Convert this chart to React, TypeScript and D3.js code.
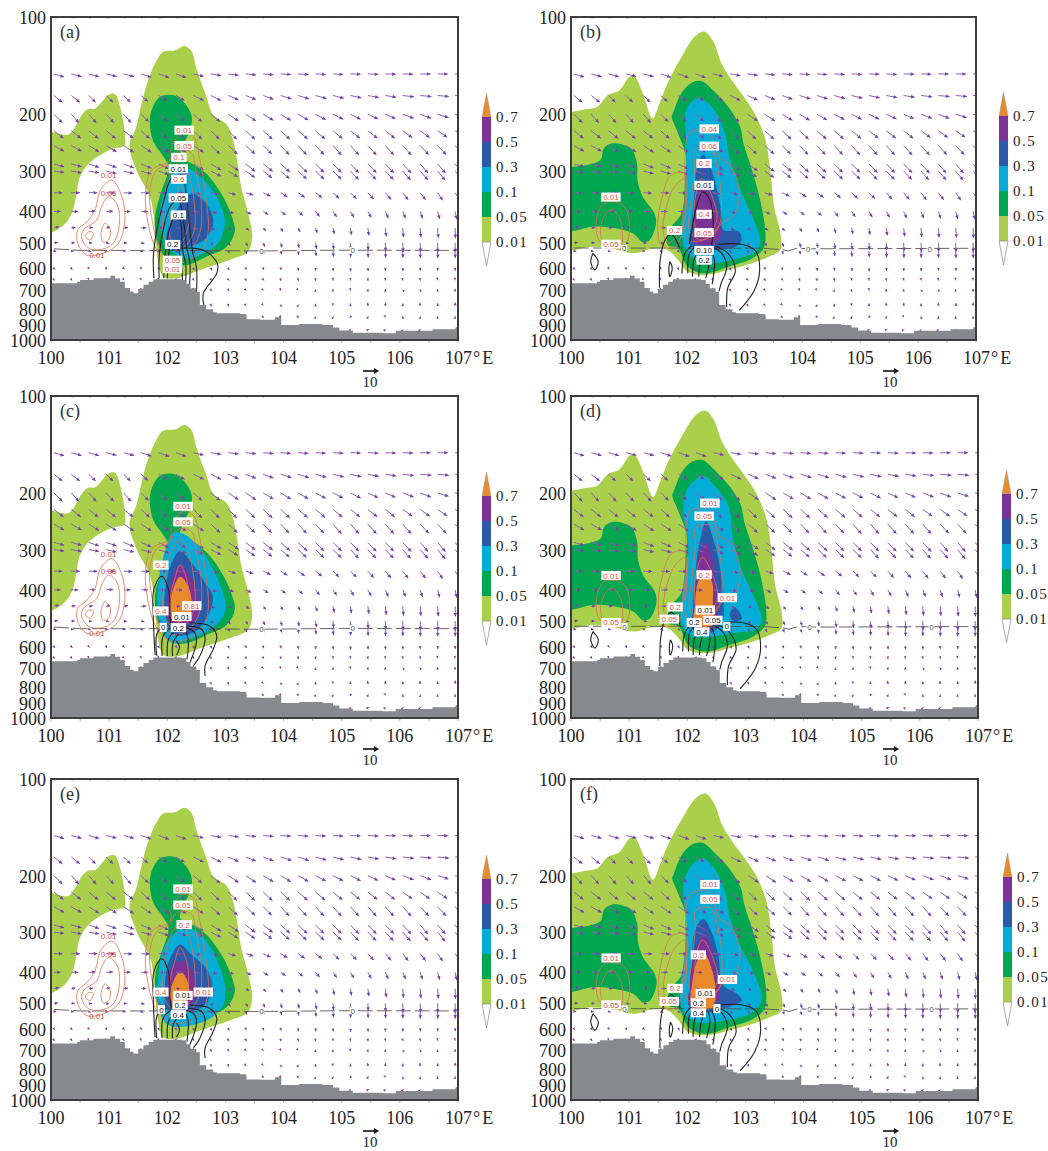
import React from 'react';
import * as d3 from 'd3';

type Pt = [number, number];

// values: [longitude, pressure]
const xTicks = [100, 101, 102, 103, 104, 105, 106, 107];
const yTicks = [100, 200, 300, 400, 500, 600, 700, 800, 900, 1000];
const legendLabels = ['0.7', '0.5', '0.3', '0.1', '0.05', '0.01'];

const terrain: Pt[] = [[100,667],[100.45,660],[100.5,652],[100.73,644],[101.02,633],[101.1,645],[101.19,660],[101.27,690],[101.36,708],[101.42,716],[101.5,695],[101.59,675],[101.68,660],[101.76,649],[102.25,652],[102.33,670],[102.4,692],[102.5,710],[102.56,779],[102.67,803],[102.79,820],[102.85,826],[103.25,831],[103.36,863],[103.6,865],[103.85,850],[103.96,898],[104.27,892],[104.67,898],[104.85,915],[104.96,935],[105.19,949],[105.7,953],[105.93,937],[106.56,926],[106.96,913],[107,913]];

// shading shared by the left column (a, c, e)
const leftPatch: Pt[] = [[99.9,229],[100.3,231],[100.53,201],[100.63,193],[100.76,192],[100.99,174],[101.1,173],[101.19,190],[101.27,229],[101.26,251],[101.1,255],[100.9,264],[100.65,284],[100.5,312],[100.42,368],[100.36,405],[100.19,445],[99.9,465]];
const mainLeft001: Pt[] = [[101.82,136],[101.93,128],[102.13,127],[102.3,123],[102.42,128],[102.5,144],[102.67,176],[102.79,201],[103.02,215],[103.13,240],[103.22,291],[103.27,335],[103.39,405],[103.46,478],[103.39,532],[103.07,565],[102.56,607],[102.16,644],[101.93,637],[101.85,579],[101.81,514],[101.76,405],[101.7,360],[101.47,298],[101.35,249],[101.47,218],[101.56,185],[101.67,157]];
const mainLeft005: Pt[] = [[101.93,175],[102.13,175],[102.3,185],[102.42,203],[102.39,224],[102.26,252],[102.22,271],[102.42,284],[102.67,305],[102.96,360],[103.13,425],[103.16,462],[103.02,514],[102.67,552],[102.33,586],[102.05,579],[101.82,490],[101.79,415],[101.87,360],[102.02,291],[101.93,270],[101.76,243],[101.7,213],[101.73,194],[101.85,178]];

// shading shared by the right column (b, d, f)
const mainRight001: Pt[] = [[99.9,203],[100.19,194],[100.45,190],[100.63,175],[100.83,169],[101.01,153],[101.09,152],[101.24,172],[101.41,206],[101.53,185],[101.67,160],[101.91,133],[102.14,115],[102.31,111],[102.46,119],[102.6,139],[102.78,157],[102.98,176],[103.19,201],[103.36,240],[103.45,305],[103.51,386],[103.62,467],[103.62,526],[103.42,552],[103.13,579],[102.72,607],[102.31,629],[102.02,615],[101.85,565],[101.67,526],[101.44,520],[101.09,539],[100.69,520],[100.34,514],[99.9,520]];
const rightPatch005: Pt[] = [[99.9,299],[100.28,287],[100.51,277],[100.57,255],[100.71,246],[101.03,255],[101.14,284],[101.15,320],[101.24,360],[101.44,405],[101.47,436],[101.36,490],[101.24,497],[101.07,467],[100.74,450],[100.4,445],[99.9,455]];
const mainRight005: Pt[] = [[101.76,199],[101.91,172],[102.08,160],[102.26,158],[102.46,169],[102.72,190],[102.92,218],[102.98,246],[103.13,298],[103.27,369],[103.36,467],[103.33,520],[103.13,559],[102.72,593],[102.31,622],[102.02,593],[101.85,520],[101.67,508],[101.7,456],[101.91,405],[101.97,320],[101.99,271],[101.85,229],[101.74,203]];

// core shading, one set per panel
const a010: Pt[] = [[102.1,305],[102.3,293],[102.5,305],[102.73,335],[102.9,377],[102.99,436],[102.87,502],[102.62,539],[102.33,560],[102.05,526],[101.9,467],[101.87,405],[101.96,342]];
const a030: Pt[] = [[102.42,352],[102.62,369],[102.76,405],[102.79,436],[102.67,483],[102.45,509],[102.1,526],[101.99,490],[102.02,445],[102.13,405],[102.27,369]];
const b010: Pt[] = [[101.99,194],[102.14,180],[102.28,180],[102.52,199],[102.66,229],[102.75,277],[102.98,360],[103.16,425],[103.27,502],[103.19,532],[102.78,565],[102.31,579],[102.02,539],[101.91,467],[101.97,386],[101.99,291],[101.99,240],[101.97,213]];
const b030: Pt[] = [[102.28,267],[102.43,298],[102.52,343],[102.6,405],[102.63,456],[102.9,461],[102.95,490],[102.84,514],[102.43,526],[102.05,508],[102.08,445],[102.13,360],[102.17,298]];
const b050: Pt[] = [[102.28,325],[102.43,360],[102.55,415],[102.6,467],[102.49,502],[102.14,502],[102.11,445],[102.14,377]];
const c010: Pt[] = [[102.1,266],[102.3,269],[102.53,293],[102.79,346],[102.99,428],[102.99,470],[102.82,518],[102.39,569],[102.07,583],[101.9,530],[101.83,448],[101.87,355],[101.99,293]];
const c030: Pt[] = [[102.22,303],[102.42,330],[102.65,380],[102.78,418],[102.7,482],[102.45,543],[102.1,549],[101.96,470],[101.99,371],[102.1,323]];
const c050: Pt[] = [[102.21,335],[102.39,363],[102.53,418],[102.56,459],[102.42,506],[102.1,518],[102,470],[102.05,389]];
const c070: Pt[] = [[102.22,364],[102.36,389],[102.42,449],[102.36,493],[102.1,499],[102.05,459],[102.1,398]];
const d010: Pt[] = [[102.13,183],[102.28,177],[102.48,191],[102.71,220],[102.79,279],[102.91,338],[103.14,418],[103.28,493],[103.19,530],[102.85,543],[102.33,562],[102.05,555],[101.9,505],[101.93,389],[102.02,293],[101.93,231],[101.99,196]];
const d030: Pt[] = [[102.32,245],[102.45,279],[102.56,338],[102.62,428],[102.61,493],[102.42,543],[102.1,530],[102.13,428],[102.16,323],[102.25,266]];
const d030b: Pt[] = [[102.82,453],[102.94,493],[102.79,499],[102.73,476]];
const d050: Pt[] = [[102.32,286],[102.42,314],[102.49,389],[102.53,470],[102.39,530],[102.13,530],[102.1,448],[102.16,355],[102.22,307]];
const d070: Pt[] = [[102.29,359],[102.42,376],[102.44,438],[102.42,518],[102.13,505],[102.13,448],[102.19,376]];
const e010: Pt[] = [[102.1,305],[102.3,290],[102.53,301],[102.79,347],[102.99,439],[102.96,506],[102.73,558],[102.22,592],[101.99,580],[101.85,506],[101.85,409],[101.93,339]];
const e030: Pt[] = [[102.22,328],[102.42,353],[102.67,390],[102.77,439],[102.65,506],[102.33,531],[101.99,519],[101.96,439],[102.02,373],[102.13,339]];
const e050: Pt[] = [[102.22,368],[102.36,381],[102.49,429],[102.47,484],[102.27,519],[102.05,495],[101.99,439],[102.07,390]];
const e070: Pt[] = [[102.22,398],[102.33,419],[102.38,461],[102.33,490],[102.07,490],[102.05,461],[102.1,429]];
const f010: Pt[] = [[102.13,182],[102.28,177],[102.48,192],[102.65,226],[102.74,273],[102.91,330],[103.11,390],[103.28,484],[103.14,531],[102.68,564],[102.16,571],[101.93,531],[101.87,461],[101.93,381],[101.99,294],[101.93,220],[102.02,192]];
const f030: Pt[] = [[102.28,273],[102.42,301],[102.53,353],[102.62,439],[102.85,466],[102.94,490],[102.79,506],[102.45,531],[102.05,519],[102.08,400],[102.1,317],[102.16,288]];
const f050: Pt[] = [[102.28,305],[102.42,339],[102.53,419],[102.56,471],[102.42,519],[102.05,513],[102.04,439],[102.1,353],[102.19,324]];
const f070: Pt[] = [[102.28,347],[102.42,390],[102.49,471],[102.42,519],[102.08,506],[102.08,439],[102.16,373]];

// red contours (closed)
const redLeft: Pt[][] = [
  [[101.05,320],[101.22,360],[101.27,425],[101.16,502],[100.9,539],[100.62,546],[100.46,502],[100.46,456],[100.62,430],[100.76,395],[100.85,343]],
  [[100.99,360],[101.13,378],[101.18,430],[101.07,502],[100.85,525],[100.65,520],[100.53,485],[100.56,456],[100.79,425],[100.87,386]],
  [[100.93,435],[101.02,456],[100.99,490],[100.9,498],[100.86,467]],
  [[100.65,462],[100.73,467],[100.67,490],[100.59,478]],
  [[102.25,229],[102.45,235],[102.56,277],[102.67,369],[102.7,467],[102.56,539],[102.1,579],[101.82,526],[101.65,415],[101.63,343],[101.73,298],[102.05,277],[102.07,252]],
  [[102.26,258],[102.42,264],[102.5,305],[102.59,386],[102.56,467],[102.39,526],[102.1,552],[101.87,514],[101.73,415],[101.7,343],[101.82,298],[102.05,284],[102.13,264]],
  [[102.22,277],[102.36,305],[102.47,386],[102.45,467],[102.25,520],[102.05,514],[101.93,467],[101.93,405],[101.99,335],[102.1,298]],
  [[102.22,335],[102.33,369],[102.36,445],[102.22,502],[102.07,490],[102.05,425],[102.13,369]],
];
const redRight: Pt[][] = [
  [[100.69,373],[100.92,386],[101.01,445],[100.95,502],[100.69,520],[100.48,490],[100.44,425],[100.54,382]],
  [[100.69,395],[100.83,415],[100.89,467],[100.86,508],[100.6,508],[100.51,467],[100.57,415]],
  [[101.97,305],[101.73,309],[101.56,369],[101.5,445],[101.56,508],[101.73,520],[101.85,502],[101.95,420]],
  [[101.97,317],[101.79,335],[101.65,386],[101.59,456],[101.67,502],[101.85,470],[101.95,390]],
  [[102.05,229],[102.37,224],[102.55,271],[102.72,284],[102.9,335],[102.84,405],[102.6,436],[102.43,478],[102.02,490],[101.99,369],[101.97,277]],
  [[102.14,258],[102.4,252],[102.55,305],[102.6,386],[102.55,445],[102.26,490],[102.05,461],[102.08,369],[102.14,291]],
  [[102.26,317],[102.46,369],[102.52,425],[102.37,467],[102.17,456],[102.14,369]],
];

// black contours (open, they run into the terrain)
const blackA: Pt[][] = [
  [[101.77,644],[101.76,552],[101.82,456],[101.93,377],[102.07,316],[102.25,309],[102.33,360],[102.39,456],[102.44,539],[102.5,593],[102.5,735]],
  [[101.86,644],[101.86,552],[101.93,456],[102.05,386],[102.19,369],[102.27,415],[102.33,514],[102.39,579],[102.38,684]],
  [[101.94,644],[101.96,552],[102.02,467],[102.13,415],[102.22,425],[102.26,520],[102.32,593],[102.31,684]],
  [[102,644],[102.02,565],[102.05,514],[102.13,508],[102.19,526],[102.25,593],[102.26,667]],
  [[102.63,779],[102.62,717],[102.85,622],[102.86,579],[102.67,532],[102.45,520],[102.22,520]],
];
const blackFanLeft: Pt[][] = [
  [[101.79,637],[101.76,488],[101.77,398],[101.9,363],[102.02,398],[102.05,493],[102.07,518]],
  [[102.39,506],[102.73,518],[102.85,555],[102.79,612],[102.65,688],[102.65,740]],
  [[102.36,518],[102.59,530],[102.65,569],[102.56,642],[102.45,688]],
  [[102.33,524],[102.47,543],[102.5,583],[102.39,672]],
  [[102.3,530],[102.36,569],[102.34,657]],
  [[101.82,642],[101.83,543],[101.99,518]],
  [[101.91,642],[101.93,555],[102.07,524]],
  [[102,642],[102.02,569],[102.13,536]],
  [[102.09,642],[102.1,583],[102.19,549]],
  [[102.16,576],[102.21,603],[102.16,637]],
];
const blackFanRight: Pt[][] = [
  [[102.53,506],[102.96,506],[103.19,530],[103.26,612],[103.16,707],[102.91,810]],
  [[102.49,511],[102.73,543],[102.84,612],[102.71,689],[102.69,790]],
  [[102.48,518],[102.62,543],[102.69,597],[102.59,672],[102.56,707]],
  [[102.42,524],[102.48,569],[102.44,672]],
  [[102.36,530],[102.39,569],[102.33,642]],
  [[102.13,518],[102.04,543],[102.02,622]],
  [[102.08,511],[101.96,543],[101.92,622]],
  [[102.28,536],[102.22,597],[102.21,637]],
  [[102.19,530],[102.12,569],[102.1,637]],
  [[101.88,518],[101.73,470],[101.62,493],[101.54,569],[101.53,689]],
  [[101.71,572],[101.75,597],[101.71,637],[101.69,603],[101.71,572]],
  [[100.38,539],[100.47,572],[100.41,607],[100.34,572],[100.38,539]],
];
const blackLobeB: Pt[] = [[102.05,502],[102.17,386],[102.28,348],[102.4,369],[102.46,456],[102.43,508]];

const zeroLeft: Pt[] = [[100.05,522],[100.5,528],[102,528],[103.6,530],[105,527],[107,528]];
const zeroRight: Pt[] = [[100.05,519],[103.3,520],[103.65,525],[103.75,530],[103.9,520],[104.2,522],[107,520]];
const zeroMarksLeft: Pt[] = [[103.62,530],[105.19,527]];
const zeroMarksRight: Pt[] = [[100.92,520],[104.1,521],[106.2,521]];

// contour labels per panel: lon, pressure, text, 1 = black
const labelsLeftCluster: [number, number, string, number][] = [[100.99,309,'0.01',0],[100.99,350,'0.05',0],[100.79,546,'0.01',0]];
const labelsRightCluster: [number, number, string, number][] = [[100.69,361,'0.01',0],[100.69,505,'0.05',0]];
const labelsA: [number, number, string, number][] = [[102.29,224,'0.01',0],[102.29,250,'0.05',0],[102.2,272,'0.1',0],[102.19,295,'0.01',1],[102.2,318,'0.6',0],[102.19,363,'0.05',1],[102.19,410,'0.1',1],[102.09,506,'0.2',1],[102.09,566,'0.05',0],[102.09,602,'0.01',0]];
const labelsB: [number, number, string, number][] = [[102.39,222,'0.04',0],[102.39,251,'0.06',0],[102.3,284,'0.2',0],[102.3,408,'0.4',0],[102.3,465,'0.05',0],[101.79,458,'0.2',0],[102.3,332,'0.01',1],[102.3,528,'0.10',1],[102.3,566,'0.2',1]];
const labelsC: [number, number, string, number][] = [[102.27,220,'0.01',0],[102.27,246,'0.05',0],[101.89,335,'0.2',0],[101.89,465,'0.4',0],[102.42,448,'0.81',0],[102.25,484,'0.01',1],[102.19,524,'0.2',1],[101.93,523,'0',1]];
const labelsD: [number, number, string, number][] = [[102.39,215,'0.01',0],[102.29,236,'0.05',0],[102.29,359,'0.2',0],[102.69,423,'0.01',0],[101.79,452,'0.2',0],[101.69,493,'0.05',0],[102.31,462,'0.01',1],[102.44,497,'0.05',1],[102.12,505,'0.2',1],[102.25,540,'0.4',1],[102.68,519,'0',1]];
const labelsE: [number, number, string, number][] = [[102.27,220,'0.01',0],[102.27,247,'0.05',0],[102.29,284,'0.2',0],[101.89,461,'0.4',0],[102.62,461,'0.01',0],[102.27,472,'0.01',1],[102.22,506,'0.2',1],[102.19,542,'0.4',1],[101.9,523,'0',1]];
const labelsF: [number, number, string, number][] = [[102.39,213,'0.01',0],[102.39,237,'0.05',0],[102.19,353,'0.2',0],[102.69,421,'0.01',0],[101.79,449,'0.2',0],[101.69,493,'0.05',0],[102.31,465,'0.01',1],[102.19,498,'0.2',1],[102.19,535,'0.4',1],[102.51,519,'0',1]];

// wind field
const windLons = [100.05,100.35,100.65,100.95,101.25,101.55,101.85,102.15,102.45,102.75,103.05,103.35,103.65,103.95,104.25,104.55,104.85,105.15,105.45,105.75,106.05,106.35,106.65,106.95];
const windLevels = [100,150,175,200,225,250,285,300,350,400,450,500,530,600,650,700,780,850,930];
const windU = [
  [2,2,2,2,2,2,2,2,2,2,2,2,1.6,1.4,1.2,1,1,1,1,1,1,1,1,1],
  [6,6,6,6,6,6,6.2,6,6,6,6,6,6,6,6,6,6,6,6.2,6.2,6,6,6,6],
  [5,5,4,4,4,4,5,5,6,6,6,6,6,6.4,6.4,6.4,6.4,6.4,6.4,6.4,6.6,6.6,6.6,6.6],
  [5,4.4,4.4,4.4,4.4,4.4,5,5,5,5.4,6,6,6,6,6,6,6,6,6,6,6.4,6.4,6.4,6.4],
  [5.6,5.6,5.6,5.6,5.6,5,5,5,5,5,5,5.4,5.4,5.4,5.6,5.6,5.6,5.6,5.6,5.6,5.6,5.6,5.6,5.6],
  [6,6,6,6,6,6,6,6,6,5.4,5.4,5.4,5,5,5,5,5,5,5,5,5,5,5,5],
  [6,6,6,6,6,6,6,6,6,6,6,5.6,5.6,5.4,5.4,5,5,5,5,5,5,4.6,4.6,4.4],
  [6,6,6,6,6,6,6,6,6,6,5.6,5.4,5.2,5.2,5,5,5,4.8,4.8,4.8,4.6,4.6,4.4,4.4],
  [5,5,5,5,5,5,5,4.6,4.4,4.4,4.4,4.4,4.4,4,4,3.8,3.6,3.6,3.4,3.4,3.2,3.2,3,3],
  [4,4,4,4,4,4,4,3.8,3.6,3.6,3.2,3.2,3,3,2.8,2.4,2.2,2,2,1.8,1.6,1.4,1.2,1],
  [3,2.4,2.4,2.4,2.6,3,2.6,2.4,2.4,2.4,2,2,1.6,1.4,1.2,1,.8,.6,.6,.6,.4,.4,.4,.2],
  [2.4,2,2,1.8,2,2,1.6,1.4,1.4,1.4,1.2,1.2,1,.8,.6,.6,.4,.3,.2,.2,.2,.2,.1,.1],
  [1.4,1.4,1.2,1,1,1.2,1,.8,.8,.8,.8,.6,.6,.6,.4,.4,.3,.2,.2,.2,.1,.1,.1,.1],
  [.6,.6,.4,.4,.6,.4,.4,.4,.4,.6,.6,.4,.4,.4,.2,.2,.2,.2,.2,.1,.1,.1,.1,.1],
  [.4,.4,.2,.4,.4,.2,.2,.4,.4,.6,.6,.4,.4,.2,.2,.2,.1,.1,.1,.1,.2,.2,.1,.1],
  [.2,.2,.2,.2,.2,.2,.2,.2,.2,.4,.5,.4,.3,.2,.2,.1,.1,.1,.1,.1,-.2,-.2,.1,.1],
  [.2,.2,.2,.2,.2,.2,.2,.2,.2,.3,.4,.4,.2,-.3,.2,.1,.1,.1,-.2,.1,.1,-.1,.1,.1],
  [.2,.2,.2,.2,.2,.2,.2,.2,.2,.2,.3,.5,.4,.2,.3,.3,.3,-.4,.3,.1,-.2,.1,.1,.1],
  [.2,.2,.2,.2,.2,.2,.2,.2,.2,.2,.2,.2,.2,.2,.2,.2,.3,.4,.6,.4,.2,.3,.1,.2],
];
const windV = [
  [.5,.5,.4,.5,.4,.5,.5,.5,.4,.3,.3,.3,.2,.2,.2,.1,.1,.1,.1,.1,.1,.1,.1,.1],
  [1.8,1.6,1.7,1.5,1.6,2,2.2,2.2,1.4,1,.8,.6,.5,.4,.4,.3,.3,.2,.3,.2,.2,.1,.1,0],
  [4,4,4,4,4,3.6,3,3,3,3,2.6,2.4,2.2,2,2,1.8,1.6,1.4,1.2,1,.8,.6,.6,.4],
  [5,5,5,5,5,4.4,4,4,4.4,4.4,4,4,3.6,3.6,3.4,3.2,3,3,2.8,2.6,2.4,2.4,2,2],
  [4.4,4.4,4.6,4.6,4.4,4.6,4.6,4.6,5,5,5,5,5,5,4.8,4.8,4.6,4.4,4.4,4.4,4,4,3.8,3.6],
  [3.4,3.4,3.8,3.8,4,4,4,4,4,5,5,5,5,5.4,5.4,5.4,5.6,5.6,5.6,5.6,5.6,5.4,5.4,5.4],
  [1.6,1.6,2,2,2.4,2.6,3,3,3.4,3.6,4,4.4,4.4,4.8,5,5,5,5.2,5.2,5.2,5.4,5.4,5.4,5.4],
  [.8,1,1,1.4,1.4,1.6,2,2,2.4,3,3.4,3.8,4,4.4,4.6,4.8,4.8,5,5,5,5.2,5.2,5.4,5.4],
  [0,0,0,.2,.2,.2,.2,.4,.6,1,1.2,1.4,2,2.4,2.8,3,3.4,3.6,3.8,4,4.2,4.2,4.4,4.4],
  [0,0,-.2,-.2,0,0,.2,.2,.4,1,1,1.6,1.8,2,2.4,3,3.2,3.4,3.6,4,4,4.2,4.4,4.6],
  [-.8,-.4,-.4,-.6,-.4,-.2,-.2,0,.6,1,1,1.4,1.8,2.2,2.4,3,3.6,4,4.4,5,5.4,5.6,5.8,6],
  [-.2,0,.2,.4,.2,.4,.6,1,1,1.4,1.8,2,2.4,2.8,3,3.6,4,4.2,4.4,5,5.4,5.4,5.6,5.6],
  [.2,.2,.4,.4,.4,.6,.8,1,1,1.2,1.4,1.8,1.8,2,2.4,3,3.4,3.6,3.8,4,4,4.2,4.2,4.2],
  [.8,.8,.6,.8,.6,.6,1,1,1.2,1.2,1,.8,1,1,1.4,1.4,1.6,1.8,1.6,1.6,1.6,1.4,1.4,1.4],
  [.6,.6,.4,.4,.4,.4,.6,.8,.6,.6,.4,.8,.6,.8,.8,.8,.6,.6,.8,.6,.6,.6,.4,.4],
  [.4,.4,.4,.4,.4,.4,.4,.4,.4,.8,.6,.4,.2,.4,.2,-.4,-.5,.5,-.6,-.6,-.2,-.4,-.5,-.7],
  [.4,.4,.4,.4,.4,.4,.4,.4,.4,.8,.8,.4,.2,-.4,-.4,-.8,.4,-1,-1.4,-1.4,-1,-1.4,-1.2,-1.6],
  [.4,.4,.4,.4,.4,.4,.4,.4,.4,.4,.6,.4,.4,.4,.5,-.4,-.5,.5,-.6,.2,-.5,-.5,-.6,-.6],
  [.2,.2,.2,.2,.2,.2,.2,.2,.2,.2,.2,.2,.2,.2,.2,.2,-.2,-.3,-.3,-.2,-.3,-.2,-.4,-.6],
];

const shadeColors = ['#aacf4a', '#00a650', '#04add8', '#2b5ba8', '#7b3398', '#e98b2d'];
const legendColors = ['#7b3398', '#2b5ba8', '#04add8', '#00a650', '#aacf4a'];

type Panel = {
  tag: string; left: number; right: number; top: number; bottom: number;
  barX: number; barY: number; textDx: number;
  shades: { level: number; pts: Pt[] }[];
  red: Pt[][]; black: Pt[][]; zero: Pt[]; zeroMarks: Pt[];
  labels: [number, number, string, number][]; faint: [number, number, string, number][];
};

const leftCommon = (tag: string, top: number, bottom: number, barY: number) => ({
  tag, left: 51, right: 458, top, bottom, barX: 482, barY, textDx: 14,
  red: redLeft, zero: zeroLeft, zeroMarks: zeroMarksLeft, faint: labelsLeftCluster,
});
const rightCommon = (tag: string, right: number, top: number, bottom: number, barX: number, barY: number) => ({
  tag, left: 571, right, top, bottom, barX, barY, textDx: 14,
  red: redRight, zero: zeroRight, zeroMarks: zeroMarksRight, faint: labelsRightCluster,
});
const leftBase = [{ level: 0, pts: leftPatch }, { level: 0, pts: mainLeft001 }, { level: 1, pts: mainLeft005 }];
const rightBase = [{ level: 0, pts: mainRight001 }, { level: 1, pts: rightPatch005 }, { level: 1, pts: mainRight005 }];

const panels: Panel[] = [
  { ...leftCommon('(a)', 17, 340, 93), shades: [...leftBase, { level: 2, pts: a010 }, { level: 3, pts: a030 }], black: blackA, labels: labelsA },
  { ...rightCommon('(b)', 976, 17, 340, 999, 92), shades: [...rightBase, { level: 2, pts: b010 }, { level: 3, pts: b030 }, { level: 4, pts: b050 }], black: [...blackFanRight, blackLobeB], labels: labelsB },
  { ...leftCommon('(c)', 396, 718, 472), shades: [...leftBase, { level: 2, pts: c010 }, { level: 3, pts: c030 }, { level: 4, pts: c050 }, { level: 5, pts: c070 }], black: blackFanLeft, labels: labelsC },
  { ...rightCommon('(d)', 978, 396, 718, 1002, 470), shades: [...rightBase, { level: 2, pts: d010 }, { level: 3, pts: d030 }, { level: 3, pts: d030b }, { level: 4, pts: d050 }, { level: 5, pts: d070 }], black: blackFanRight, labels: labelsD },
  { ...leftCommon('(e)', 779, 1100, 855), shades: [...leftBase, { level: 2, pts: e010 }, { level: 3, pts: e030 }, { level: 4, pts: e050 }, { level: 5, pts: e070 }], black: blackFanLeft, labels: labelsE },
  { ...rightCommon('(f)', 978, 779, 1100, 1003, 853), shades: [...rightBase, { level: 2, pts: f010 }, { level: 3, pts: f030 }, { level: 4, pts: f050 }, { level: 5, pts: f070 }], black: blackFanRight, labels: labelsF },
];

const SERIF = '"Liberation Serif", serif';
const ARROW_PX = 1.7; // the key arrow, 10 units, is about 16px long

function PlotPanel({ p, id }: { p: Panel; id: number }) {
  const x = d3.scaleLinear().domain([100, 107]).range([p.left, p.right]);
  const y = d3.scaleLog().domain([100, 1000]).range([p.top, p.bottom]);
  const closed = d3.line<Pt>().x(d => x(d[0])).y(d => y(d[1])).curve(d3.curveCatmullRomClosed.alpha(0.5));
  const open = d3.line<Pt>().x(d => x(d[0])).y(d => y(d[1])).curve(d3.curveCatmullRom.alpha(0.5));
  const straight = d3.line<Pt>().x(d => x(d[0])).y(d => y(d[1]));
  const ground = d3.area<Pt>().x(d => x(d[0])).y0(p.bottom).y1(d => y(d[1])).curve(d3.curveStepAfter);

  // colour bar steps
  const step = 25;
  const barW = 9;
  const tip = 24;
  const barTop = p.barY + tip;

  const contourLabel = (l: [number, number, string, number], i: number, plain: boolean) => {
    const w = l[2].length * 4.1 + 3;
    return (
      <g key={i}>
        {!plain && <rect x={x(l[0]) - w / 2} y={y(l[1]) - 4.5} width={w} height={9} fill="#fff" />}
        <text x={x(l[0])} y={y(l[1]) + 3} textAnchor="middle" fontSize={8} fontFamily='"Liberation Sans", sans-serif'
          fill={l[3] ? '#111' : '#d8504a'}>{l[2]}</text>
      </g>
    );
  };

  return (
    <g>
      <clipPath id={`clip${id}`}><rect x={p.left} y={p.top} width={p.right - p.left} height={p.bottom - p.top} /></clipPath>
      <g clipPath={`url(#clip${id})`}>
        {p.shades.map((s, i) => <path key={i} d={closed(s.pts) || ''} fill={shadeColors[s.level]} />)}
        <path d={straight(p.zero) || ''} fill="none" stroke="#555" strokeWidth={0.9} strokeDasharray="15 4" />
        {windLevels.map((lev, r) => windLons.map((lon, c) => {
          const x0 = x(lon);
          const y0 = y(lev);
          const dx = windU[r][c] * ARROW_PX;
          const dy = windV[r][c] * ARROW_PX;
          const len = Math.hypot(dx, dy) || 1;
          const ux = dx / len;
          const uy = dy / len;
          const head = Math.min(3.6, 2.4 + len * 0.15);
          const tx = x0 + dx;
          const ty = y0 + dy;
          return (
            <g key={`${r}-${c}`}>
              <line x1={x0} y1={y0} x2={tx} y2={ty} stroke="#8a62b4" strokeWidth={1} />
              <path d={`M${tx},${ty}L${tx - ux * head - uy * head * 0.5},${ty - uy * head + ux * head * 0.5}L${tx - ux * head + uy * head * 0.5},${ty - uy * head - ux * head * 0.5}Z`} fill="#7a3fa8" />
            </g>
          );
        }))}
        {p.red.map((r, i) => <path key={i} d={closed(r) || ''} fill="none" stroke="#e0704f" strokeWidth={0.8} />)}
        {p.black.map((r, i) => <path key={i} d={open(r) || ''} fill="none" stroke="#222" strokeWidth={1.1} />)}
        <path d={ground(terrain) || ''} fill="#87898d" />
        {p.zeroMarks.map((m, i) => (
          <g key={i}>
            <rect x={x(m[0]) - 3} y={y(m[1]) - 3.5} width={6} height={7} fill="#fff" />
            <text x={x(m[0])} y={y(m[1]) + 3} textAnchor="middle" fontSize={8} fontFamily='"Liberation Sans", sans-serif' fill="#555">0</text>
          </g>
        ))}
        {p.faint.map((l, i) => contourLabel(l, i, p.left < 100))}
        {p.labels.map((l, i) => contourLabel(l, i + 100, false))}
      </g>
      <rect x={p.left} y={p.top} width={p.right - p.left} height={p.bottom - p.top} fill="none" stroke="#3d3d3d" strokeWidth={2} />
      <text x={p.left + 9} y={p.top + 21} fontSize={18} fontFamily={SERIF} fill="#333">{p.tag}</text>

      {yTicks.map(t => (
        <text key={t} x={p.left - 5} y={y(t) + 7} textAnchor="end" fontSize={18} fontFamily={SERIF} fill="#222">{t}</text>
      ))}
      {d3.range(100, 107.01, 0.5).map(t => (
        <line key={t} x1={x(t)} x2={x(t)} y1={p.bottom + 1} y2={p.bottom + 3} stroke="#bbb" strokeWidth={1} />
      ))}
      {xTicks.map(t => (
        <text key={t} x={t === 107 ? x(t) - 13 : x(t)} y={p.bottom + 24} textAnchor={t === 107 ? 'start' : 'middle'} fontSize={18} fontFamily={SERIF} fill="#222">
          {t}{t === 107 ? <tspan dx={1}>°<tspan dx={2}>E</tspan></tspan> : null}
        </text>
      ))}

      {/* key arrow */}
      <line x1={p.left + 312} x2={p.left + 326} y1={p.bottom + 31} y2={p.bottom + 31} stroke="#111" strokeWidth={1.6} />
      <path d={`M${p.left + 328},${p.bottom + 31}l-5,-3l0,6Z`} fill="#111" />
      <text x={p.left + 319} y={p.bottom + 47} textAnchor="middle" fontSize={15} fontFamily={SERIF} fill="#222">10</text>

      {/* colour bar */}
      <path d={`M${p.barX},${barTop}L${p.barX + barW / 2},${p.barY}L${p.barX + barW},${barTop}Z`} fill="#e98b2d" stroke="#999" strokeWidth={0.5} />
      {legendColors.map((c, i) => <rect key={c} x={p.barX} y={barTop + i * step} width={barW} height={step} fill={c} />)}
      <path d={`M${p.barX},${barTop + 5 * step}L${p.barX + barW / 2},${barTop + 5 * step + tip}L${p.barX + barW},${barTop + 5 * step}Z`} fill="#fff" stroke="#888" strokeWidth={0.7} />
      {legendLabels.map((l, i) => (
        <text key={l} x={p.barX + p.textDx} y={barTop + i * step + 5} fontSize={15} letterSpacing={1.5} fontFamily={SERIF} fill="#222">{l}</text>
      ))}
    </g>
  );
}

export default function App() {
  return (
    <svg width={1048} height={1151} style={{ position: 'absolute', left: 0, top: 0, background: '#fff' }}>
      {panels.map((p, i) => <PlotPanel key={p.tag} p={p} id={i} />)}
    </svg>
  );
}
